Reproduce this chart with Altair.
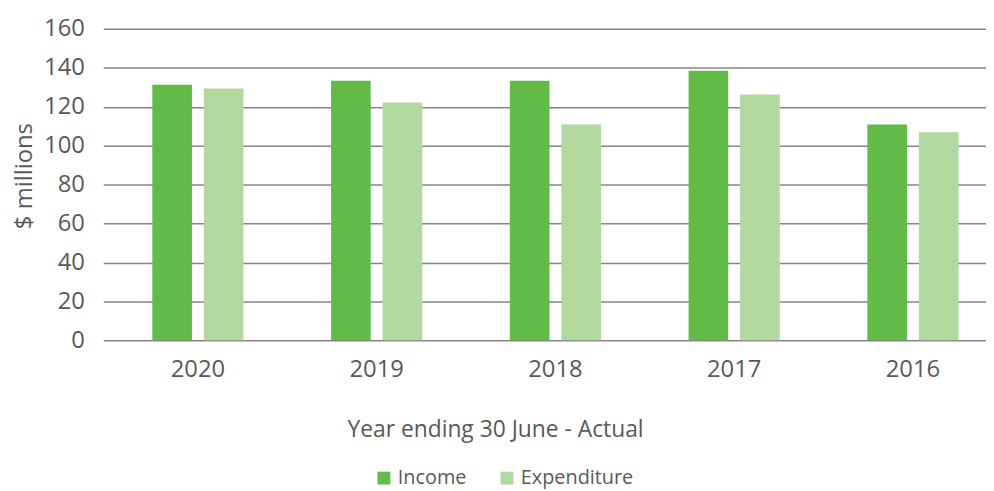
import altair as alt
import pandas as pd

years = ["2020", "2019", "2018", "2017", "2016"]
income = [131.3, 133.3, 133.3, 138.4, 110.9]
expenditure = [129.3, 122.1, 110.9, 126.2, 106.9]
series = ["Income", "Expenditure"]
colors = ["#62BB46", "#B1D89E"]
y_ticks = [0, 20, 40, 60, 80, 100, 120, 140, 160]

rows = []
for yr, inc, exp in zip(years, income, expenditure):
    rows.append({"year": yr, "series": "Income", "value": inc})
    rows.append({"year": yr, "series": "Expenditure", "value": exp})
df = pd.DataFrame(rows)

txt = "#595959"

chart = alt.Chart(df).mark_bar().encode(
    x=alt.X(
        "year:N", sort=years,
        scale=alt.Scale(paddingInner=0.49, paddingOuter=0.2142, align=0.641),
        axis=alt.Axis(
            title="Year ending 30 June - Actual", labelAngle=0, domain=False, ticks=False,
            labelPadding=18, labelFontSize=24, labelColor=txt, labelFont="Open Sans",
            titleFontSize=23, titleColor=txt, titleFont="Open Sans", titleFontWeight="normal",
            titleX=395, titleY=90, titleAlign="center", titleBaseline="middle",
        ),
    ),
    xOffset=alt.XOffset("series:N", sort=series,
                        scale=alt.Scale(paddingInner=0.2308, paddingOuter=0)),
    y=alt.Y(
        "value:Q", scale=alt.Scale(domain=[0, 160]),
        axis=alt.Axis(
            values=y_ticks, title="$ millions", domain=False, ticks=False,
            labelPadding=19, labelFontSize=24, labelColor=txt, labelFont="Open Sans",
            gridColor="#858585", gridWidth=1.5,
            titleFontSize=24, titleColor=txt, titleFont="Open Sans", titleFontWeight="normal",
            titleX=-79, titleY=148, titleAlign="center", titleBaseline="middle",
        ),
    ),
    color=alt.Color(
        "series:N", sort=series,
        scale=alt.Scale(domain=series, range=colors),
        legend=alt.Legend(
            title=None, orient="none", direction="horizontal",
            legendX=273, legendY=443, symbolType="square", symbolSize=169,
            symbolStrokeWidth=0, labelFontSize=20, labelColor=txt, labelFont="Open Sans",
            labelOffset=4, columnPadding=30, padding=0,
        ),
    ),
).properties(
    width=890, height=314,
    autosize=alt.AutoSizeParams(type="none"),
    padding={"left": 96, "top": 19, "right": 0, "bottom": 150},
).configure_view(stroke=None)

chart.save("out.html", embed_options={"renderer": "svg", "actions": False})
